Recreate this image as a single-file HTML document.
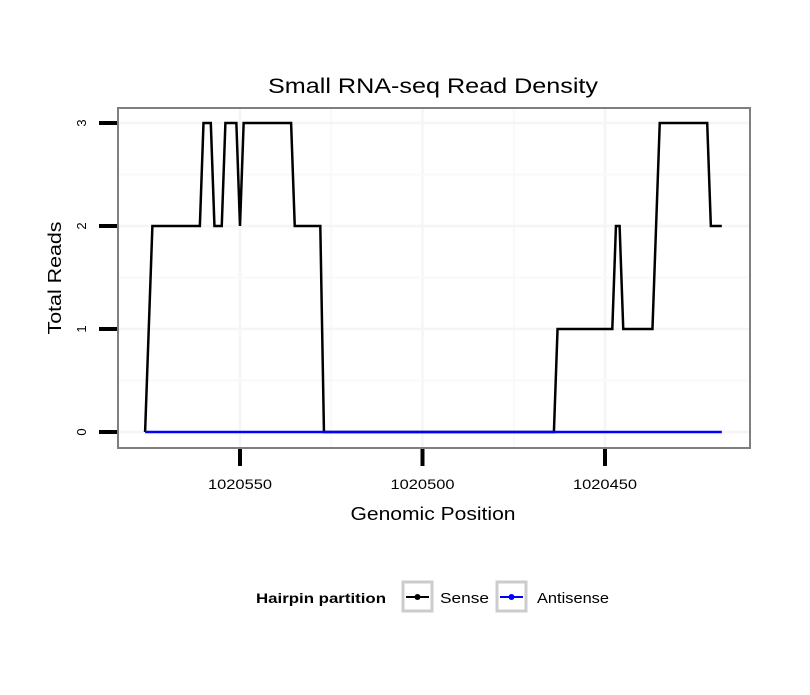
<!DOCTYPE html>
<html><head><meta charset="utf-8"><style>
body{margin:0;background:#fff;}
svg text{font-family:"Liberation Sans",sans-serif;}
</style></head><body>
<svg width="810" height="690" viewBox="0 0 810 690">
<rect width="810" height="690" fill="#fff"/>
<text x="433" y="93" font-size="21" text-anchor="middle" textLength="330" lengthAdjust="spacingAndGlyphs">Small RNA-seq Read Density</text>
<g id="grid"></g>
<g id="series"></g>
<rect x="118" y="108" width="632" height="340" fill="none" stroke="#7f7f7f" stroke-width="2"/>
<g id="axes"></g>
<text x="433" y="520" font-size="18" text-anchor="middle" textLength="165" lengthAdjust="spacingAndGlyphs">Genomic Position</text>
<text transform="translate(61,278) rotate(-90)" font-size="18" text-anchor="middle" textLength="113" lengthAdjust="spacingAndGlyphs">Total Reads</text>
<g>
<text x="256" y="603" font-size="14" font-weight="bold" textLength="130" lengthAdjust="spacingAndGlyphs">Hairpin partition</text>
<g>
<rect x="403" y="582" width="29" height="29" fill="none" stroke="#ccc" stroke-width="3"/>
<line x1="406" y1="597" x2="429" y2="597" stroke="#000" stroke-width="2"/>
<circle cx="417.5" cy="597" r="3" fill="#000"/>
<text x="440" y="603" font-size="15" textLength="49" lengthAdjust="spacingAndGlyphs">Sense</text>
</g>
<g>
<rect x="497" y="582" width="29" height="29" fill="none" stroke="#ccc" stroke-width="3"/>
<line x1="500" y1="597" x2="523" y2="597" stroke="#00f" stroke-width="2"/>
<circle cx="511.5" cy="597" r="3" fill="#00f"/>
<text x="537" y="603" font-size="15" textLength="72" lengthAdjust="spacingAndGlyphs">Antisense</text>
</g>
</g>
</svg>
<script>
const senseX=[1020576,1020574,1020561,1020560,1020558,1020557,1020555,1020554,1020551,1020550,1020549,1020536,1020535,1020528,1020527,1020464,1020463,1020448,1020447,1020446,1020445,1020437,1020435,1020422,1020421,1020418];
const senseY=[0,2,2,3,3,2,2,3,3,2,3,3,2,2,0,0,1,1,2,2,1,1,3,3,2,2];
const antisenseX=[1020576,1020418];
const antisenseY=[0,0];
const xTicks=[1020550,1020500,1020450];
const yTicks=[0,1,2,3];
const NS='http://www.w3.org/2000/svg';
function xs(v){return 240+(1020550-v)*3.65;}
function ys(v){return 432-v*103;}
function mk(tag,attrs,parent){const e=document.createElementNS(NS,tag);for(const k in attrs)e.setAttribute(k,attrs[k]);parent.appendChild(e);return e;}
const grid=document.getElementById('grid'),series=document.getElementById('series'),axes=document.getElementById('axes');
for(let i=0;i<xTicks.length;i++){
  const g=mk('line',{x1:xs(xTicks[i]),x2:xs(xTicks[i]),y1:109,y2:447,stroke:'#f5f5f5','stroke-width':2.5},grid);
  
  
  if(i<xTicks.length-1){const m=(xTicks[i]+xTicks[i+1])/2;const g2=mk('line',{x1:xs(m),x2:xs(m),y1:109,y2:447,stroke:'#f9f9f9','stroke-width':2},grid);
  
  }
}
for(let i=0;i<yTicks.length;i++){
  const g=mk('line',{x1:119,x2:749,y1:ys(yTicks[i]),y2:ys(yTicks[i]),stroke:'#f5f5f5','stroke-width':2.5},grid);
  
  
  if(i<yTicks.length-1){const m=(yTicks[i]+yTicks[i+1])/2;const g2=mk('line',{x1:119,x2:749,y1:ys(m),y2:ys(m),stroke:'#f9f9f9','stroke-width':2},grid);
  
  }
}
const ps=mk('polyline',{points:senseX.map((v,i)=>xs(v)+','+ys(senseY[i])).join(' '),fill:'none',stroke:'#000','stroke-width':2.5,'stroke-linejoin':'miter'},series);


const pa=mk('polyline',{points:antisenseX.map((v,i)=>xs(v)+','+ys(antisenseY[i])).join(' '),fill:'none',stroke:'#00f','stroke-width':2.5},series);


xTicks.forEach(t=>{
  const l=mk('line',{x1:xs(t),x2:xs(t),y1:449,y2:466,stroke:'#000','stroke-width':4},axes);
  
  
  const tx=mk('text',{x:xs(t),y:489,'font-size':14,'text-anchor':'middle',textLength:64,lengthAdjust:'spacingAndGlyphs'},axes);tx.textContent=t;
  
  
});
yTicks.forEach(t=>{
  const l=mk('line',{x1:99,x2:117,y1:ys(t),y2:ys(t),stroke:'#000','stroke-width':4},axes);
  
  
  const tx=mk('text',{transform:'translate(86,'+ys(t)+') rotate(-90)','font-size':13,'text-anchor':'middle'},axes);tx.textContent=t;
  
  
});
</script>
</body></html>
